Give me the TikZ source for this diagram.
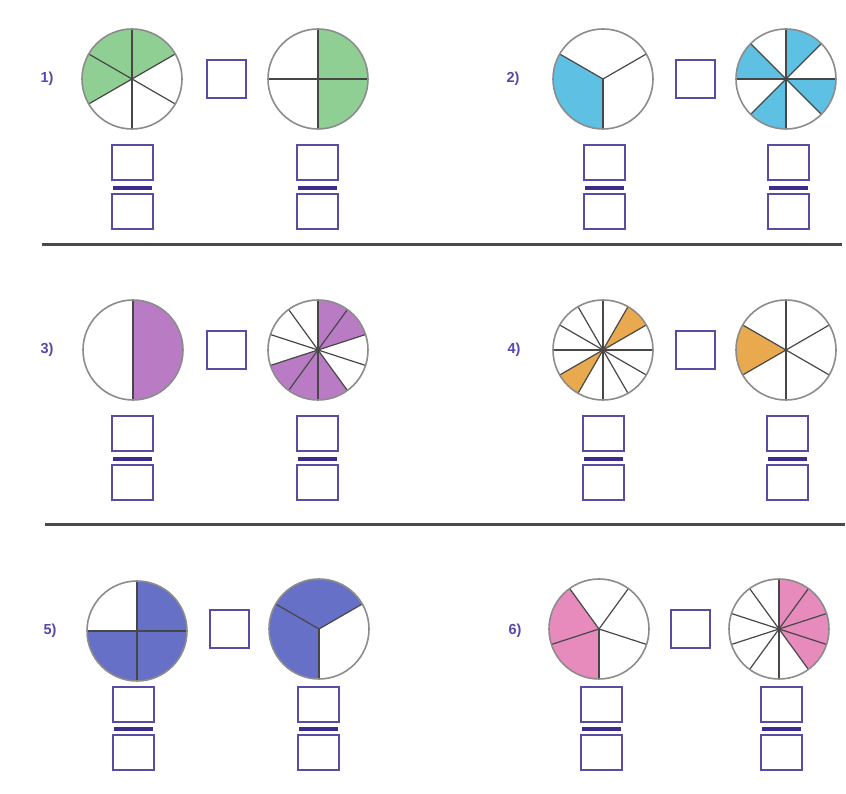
\documentclass[tikz,border=0pt]{standalone}
\usepackage{fontspec}
\setmainfont{Liberation Sans}

\definecolor{ink}{HTML}{5548A6}
\definecolor{boxline}{HTML}{5A4BA3}
\definecolor{barink}{HTML}{3B2D8C}
\definecolor{rimgrey}{HTML}{8C8C8C}
\definecolor{spoke}{HTML}{474747}
\definecolor{rulegrey}{HTML}{4A4A4A}
\definecolor{leafgreen}{HTML}{90CF94}
\definecolor{skyblue}{HTML}{5EC1E4}
\definecolor{orchid}{HTML}{B97CC4}
\definecolor{apricot}{HTML}{E9A94F}
\definecolor{periwinkle}{HTML}{6670C6}
\definecolor{rosepink}{HTML}{E78BBD}

\tikzset{
  pienode/.style={circle, minimum size=100pt, inner sep=0pt},
  spokeline/.style={draw=spoke, line width=1.2pt},
  rimline/.style={draw=rimgrey, line width=1.6pt},
  answerbox/.style={draw=boxline, line width=2pt, minimum width=39pt, minimum height=38pt, inner sep=0pt},
  numbox/.style={draw=boxline, line width=2pt, minimum width=41pt, minimum height=35pt, inner sep=0pt},
  barnode/.style={fill=barink, minimum width=39pt, minimum height=4pt, inner sep=0pt},
  tasklabel/.style={text=ink, font=\fontsize{14.5}{16}\selectfont\bfseries},
  rulerline/.style={draw=rulegrey, line width=3pt},
}

% #1 name, #2 centre, #3 number of parts, #4 first spoke angle,
% #5 shaded part indices, #6 fill colour
\newcommand\fracpie[6]{%
  \node[pienode] (#1) at (#2) {};
  \foreach \k in {#5}{
    \pgfmathsetmacro\aa{#4+\k*360/#3}
    \fill[#6] (#1.center) -- ++(\aa:50pt)
      arc[start angle=\aa, delta angle=360/#3, radius=50pt] -- cycle;
  }
  \foreach \k in {1,...,#3}{
    \draw[spokeline] (#1.center) -- ++({#4+\k*360/#3}:50pt);
  }
  \draw[rimline] (#1.center) circle[radius=50pt];
}

% #1 name, #2 x, #3 numerator y, #4 bar y, #5 denominator y
\newcommand\fracstack[5]{%
  \node[numbox] (#1num) at (#2,#3) {};
  \node[barnode] (#1bar) at (#2,#4) {};
  \node[numbox] (#1den) at (#2,#5) {};
}

\begin{document}
\begin{tikzpicture}[x=1pt, y=1pt]
  \useasboundingbox (0,0) rectangle (846,794);
  \fill[white] (0,0) rectangle (846,794);

  % row 1
  \node[tasklabel] (t1) at (47,715) {1)};
  \fracpie{p1a}{132,715}{6}{30}{0,1,2}{leafgreen}
  \node[answerbox] (q1) at (226,715) {};
  \fracpie{p1b}{318,715}{4}{0}{0,3}{leafgreen}
  \fracstack{f1a}{132}{631}{606}{582.5}
  \fracstack{f1b}{317}{631}{606}{582.5}

  \node[tasklabel] (t2) at (513,715) {2)};
  \fracpie{p2a}{603,715}{3}{30}{1}{skyblue}
  \node[answerbox] (q2) at (695,715) {};
  \fracpie{p2b}{786,715}{8}{0}{1,3,5,7}{skyblue}
  \fracstack{f2a}{604}{631}{606}{582.5}
  \fracstack{f2b}{788}{631}{606}{582.5}

  \draw[rulerline] (42,549) coordinate (r1w) -- (842,549) coordinate (r1e);

  % row 2
  \node[tasklabel] (t3) at (47,444) {3)};
  \fracpie{p3a}{133,444}{2}{-90}{0}{orchid}
  \node[answerbox] (q3) at (226,444) {};
  \fracpie{p3b}{318,444}{10}{18}{0,1,5,6,7}{orchid}
  \fracstack{f3a}{132}{360}{335}{311.5}
  \fracstack{f3b}{317}{360}{335}{311.5}

  \node[tasklabel] (t4) at (514,444) {4)};
  \fracpie{p4a}{603,444}{12}{0}{1,7}{apricot}
  \node[answerbox] (q4) at (695,444) {};
  \fracpie{p4b}{786,444}{6}{30}{2}{apricot}
  \fracstack{f4a}{603}{360}{335}{311.5}
  \fracstack{f4b}{787}{360}{335}{311.5}

  \draw[rulerline] (45,269) coordinate (r2w) -- (845,269) coordinate (r2e);

  % row 3
  \node[tasklabel] (t5) at (50,163) {5)};
  \fracpie{p5a}{137,163}{4}{0}{0,2,3}{periwinkle}
  \node[answerbox] (q5) at (229,165) {};
  \fracpie{p5b}{319,165}{3}{30}{0,1}{periwinkle}
  \fracstack{f5a}{133}{89}{65}{41}
  \fracstack{f5b}{318}{89}{65}{41}

  \node[tasklabel] (t6) at (515,163) {6)};
  \fracpie{p6a}{599,165}{5}{54}{1,2}{rosepink}
  \node[answerbox] (q6) at (690,165) {};
  \fracpie{p6b}{779,165}{10}{18}{0,1,8,9}{rosepink}
  \fracstack{f6a}{601}{89}{65}{41}
  \fracstack{f6b}{781}{89}{65}{41}
\end{tikzpicture}
\end{document}
